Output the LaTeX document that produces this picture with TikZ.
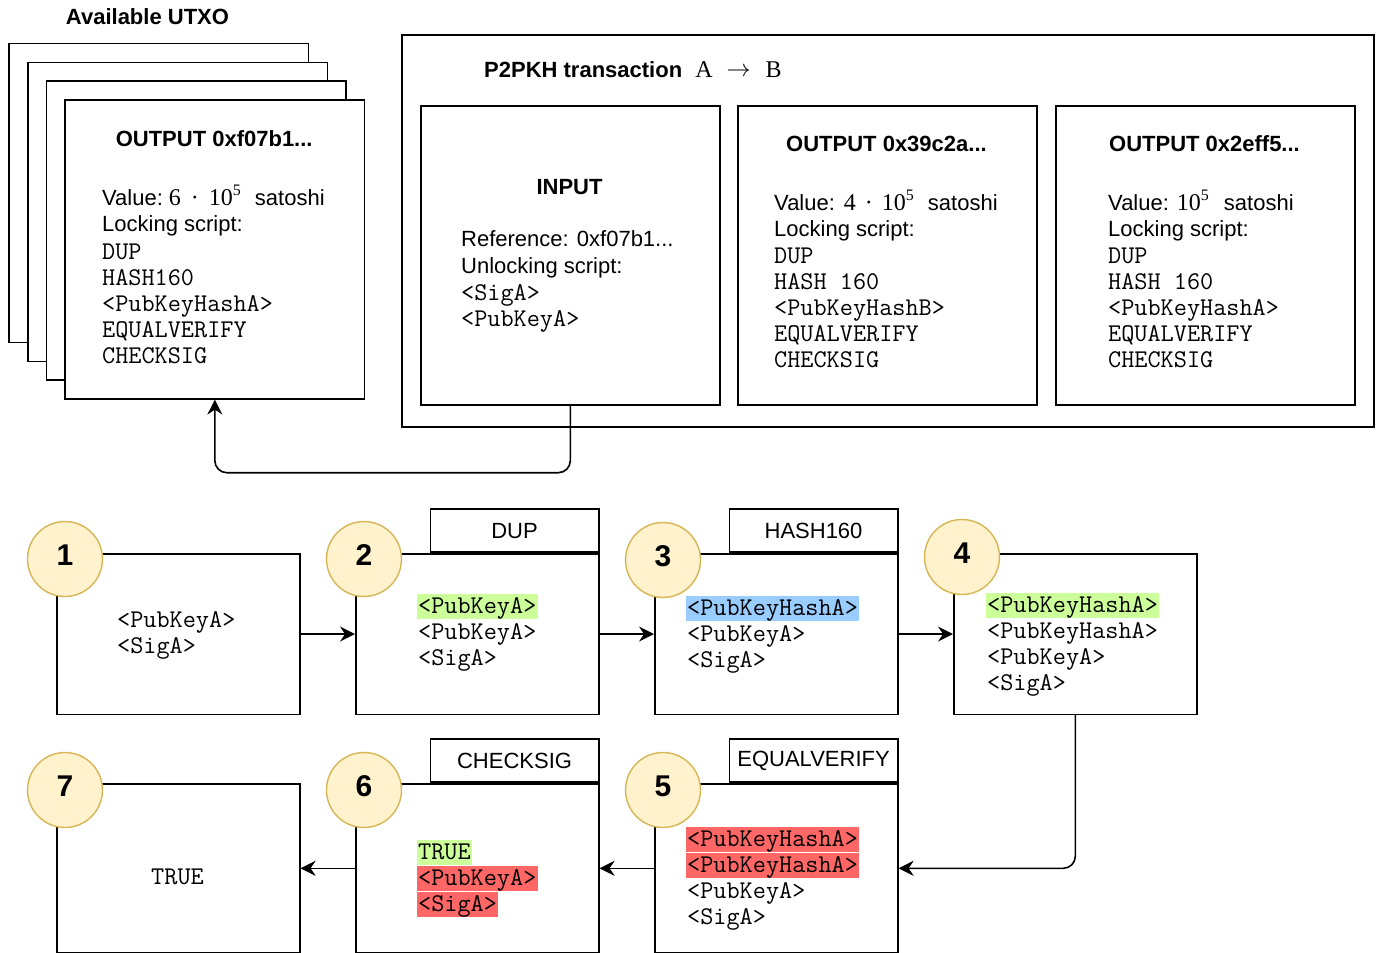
\documentclass[tikz,border=0pt]{standalone}
\usepackage{graphicx}
\usepackage{fontspec}
\setmainfont{Liberation Sans}
\newfontfamily\numfont{Liberation Serif}
\usetikzlibrary{arrows.meta}
\definecolor{hlgreen}{HTML}{CCFF99}
\definecolor{hlblue}{HTML}{99CCFF}
\definecolor{hlred}{HTML}{FF6666}
\definecolor{stepfill}{HTML}{FFF2CC}
\definecolor{stepline}{HTML}{D6B656}
% serif figures and their exponent
\newcommand\nf[1]{{\numfont\fontsize{24}{26}\selectfont #1}}
\newcommand\expo[1]{\raisebox{10pt}{\numfont\fontsize{16}{16}\selectfont #1}}

\begin{document}
\begin{tikzpicture}[x=1pt,y=-1pt,
  panel/.style={draw=black, line width=1.6pt, fill=white, inner sep=0pt, anchor=north west},
  bigpanel/.style={panel, minimum width=299.5pt, minimum height=299pt},
  stackbox/.style={panel, minimum width=243pt},
  tabbox/.style={draw=black, line width=1.6pt, fill=white, inner sep=0pt, anchor=south east,
    minimum width=168.5pt, minimum height=43pt, font=\fontsize{22}{26}\selectfont},
  stepnum/.style={circle, draw=stepline, fill=stepfill, line width=1.4pt, minimum size=75pt,
    inner sep=0pt, font=\bfseries\fontsize{30}{30}\selectfont, text height=21.5pt, text depth=8pt},
  head/.style={font=\bfseries\fontsize{22}{26}\selectfont, anchor=base, inner sep=0pt},
  txt/.style={font=\fontsize{22}{26}\selectfont, anchor=base west, inner sep=0pt},
  code/.style={font=\ttfamily\fontsize{25.5}{26}\selectfont, anchor=base west, inner xsep=1.5pt,
    inner ysep=0pt, text height=19pt, text depth=6pt},
  link/.style={line width=1.6pt, -{Stealth[length=15pt,width=15pt,inset=5pt]}}
]
\fill[white] (0,0) rectangle (1377,953);
\useasboundingbox (0,0) rectangle (1377,953);

% ---------- available UTXO stack ----------
\node[head] (utxo-title) at (147.5,24) {Available UTXO};
\node[bigpanel] (utxo-back3) at (8.3,42.7) {};
\node[bigpanel] (utxo-back2) at (27,61.7) {};
\node[bigpanel] (utxo-back1) at (45.7,80.3) {};
\node[bigpanel] (utxo) at (64.3,99) {};
\node[head] (utxo-head) at (214.2,146) {OUTPUT 0xf07b1...};
\node[txt] (utxo-value) at (102,205)
  {Value:\hspace{6pt}\nf{6}\hspace{10pt}\nf{·}\hspace{10pt}\nf{10}\expo{5}\hspace{14pt}satoshi};
\node[txt] (utxo-lock) at (102,231) {Locking script:};
\foreach \t [count=\i] in {DUP,HASH160,{<PubKeyHashA>},EQUALVERIFY,CHECKSIG}
  \node[code] (utxo-l\i) at (100.5,{233+26*\i}) {\t};

% ---------- transaction ----------
\node[panel, minimum width=972pt, minimum height=392pt] (tx) at (401,34) {};
\node[txt] (tx-title) at (484,77)
  {\textbf{P2PKH transaction}\hspace{13pt}\nf{A}\hspace{14pt}\resizebox{24pt}{!}{$\rightarrow$}\hspace{15pt}\nf{B}};

\node[bigpanel, minimum width=299pt] (input) at (420,105) {};
\node[head] (in-head) at (569.5,194) {INPUT};
\node[txt] (in-ref) at (461,246) {Reference: 0xf07b1...};
\node[txt] (in-unlock) at (461,273) {Unlocking script:};
\node[code] (in-l1) at (459.5,300) {<SigA>};
\node[code] (in-l2) at (459.5,326) {<PubKeyA>};

\node[bigpanel, minimum width=299pt] (outb) at (737,105) {};
\node[head] (outb-head) at (886.5,151) {OUTPUT 0x39c2a...};
\node[txt] (outb-value) at (774,210)
  {Value:\hspace{9pt}\nf{4}\hspace{9pt}\nf{·}\hspace{9pt}\nf{10}\expo{5}\hspace{14pt}satoshi};
\node[txt] (outb-lock) at (774,236) {Locking script:};
\foreach \t [count=\i] in {DUP,HASH 160,{<PubKeyHashB>},EQUALVERIFY,CHECKSIG}
  \node[code] (outb-l\i) at (772.5,{237+26*\i}) {\t};

\node[bigpanel, minimum width=299pt] (outa) at (1055,105) {};
\node[head] (outa-head) at (1204.5,151) {OUTPUT 0x2eff5...};
\node[txt] (outa-value) at (1108,210)
  {Value:\hspace{8pt}\nf{10}\expo{5}\hspace{15pt}satoshi};
\node[txt] (outa-lock) at (1108,236) {Locking script:};
\foreach \t [count=\i] in {DUP,HASH 160,{<PubKeyHashA>},EQUALVERIFY,CHECKSIG}
  \node[code] (outa-l\i) at (1106.5,{237+26*\i}) {\t};

\coordinate (route) at (0,472.7);
\draw[link, rounded corners=12pt] (input.south) -- (input.south |- route)
  -- (utxo.south |- route) -- (utxo.south);

% ---------- script execution, row 1 ----------
\node[stackbox, minimum height=160.5pt] (s1) at (56,553) {};
\node[stackbox, minimum height=160.5pt] (s2) at (355,553) {};
\node[stackbox, minimum height=160.5pt] (s3) at (654,553) {};
\node[stackbox, minimum height=160.5pt] (s4) at (953,553) {};
\node[tabbox] (op2) at (s2.north east) {DUP};
\node[tabbox] (op3) at (s3.north east) {HASH160};

\node[code] (s1-l1) at (115.5,627) {<PubKeyA>};
\node[code] (s1-l2) at (115.5,653) {<SigA>};

\node[code, fill=hlgreen] (s2-l1) at (416.5,613) {<PubKeyA>};
\node[code] (s2-l2) at (416.5,639) {<PubKeyA>};
\node[code] (s2-l3) at (416.5,665) {<SigA>};

\node[code, fill=hlblue] (s3-l1) at (685.5,615) {<PubKeyHashA>};
\node[code] (s3-l2) at (685.5,641) {<PubKeyA>};
\node[code] (s3-l3) at (685.5,667) {<SigA>};

\node[code, fill=hlgreen] (s4-l1) at (985.5,612) {<PubKeyHashA>};
\node[code] (s4-l2) at (985.5,638) {<PubKeyHashA>};
\node[code] (s4-l3) at (985.5,664) {<PubKeyA>};
\node[code] (s4-l4) at (985.5,690) {<SigA>};

% ---------- script execution, row 2 ----------
\node[stackbox, minimum height=169pt] (s7) at (56,783) {};
\node[stackbox, minimum height=169pt] (s6) at (355,783) {};
\node[stackbox, minimum height=169pt] (s5) at (654,783) {};
\node[tabbox] (op6) at (s6.north east) {CHECKSIG};
\node[tabbox] (op5) at (s5.north east) {EQUALVERIFY};

\node[code, anchor=base] (s7-l1) at (177.5,884) {TRUE};

\node[code, fill=hlgreen] (s6-l1) at (416.5,859) {TRUE};
\node[code, fill=hlred] (s6-l2) at (416.5,885) {<PubKeyA>};
\node[code, fill=hlred] (s6-l3) at (416.5,911) {<SigA>};

\node[code, fill=hlred] (s5-l1) at (685.5,846) {<PubKeyHashA>};
\node[code, fill=hlred] (s5-l2) at (685.5,872) {<PubKeyHashA>};
\node[code] (s5-l3) at (685.5,898) {<PubKeyA>};
\node[code] (s5-l4) at (685.5,924) {<SigA>};

% ---------- flow between steps ----------
\draw[link] (s1.east) -- (s2.west);
\draw[link] (s2.east) -- (s3.west);
\draw[link] (s3.east) -- (s4.west);
\draw[link, rounded corners=12pt] (s4.south) -- (s4.south |- s5.east) -- (s5.east);
\draw[link] (s5.west) -- (s6.east);
\draw[link] (s6.west) -- (s7.east);

% ---------- step numbers ----------
\node[stepnum] (n1) at (65,559) {1};
\node[stepnum] (n2) at (364,559) {2};
\node[stepnum] (n3) at (663,560) {3};
\node[stepnum] (n4) at (962,557) {4};
\node[stepnum] (n5) at (663,790) {5};
\node[stepnum] (n6) at (364,790) {6};
\node[stepnum] (n7) at (65,790) {7};
\end{tikzpicture}
\end{document}
